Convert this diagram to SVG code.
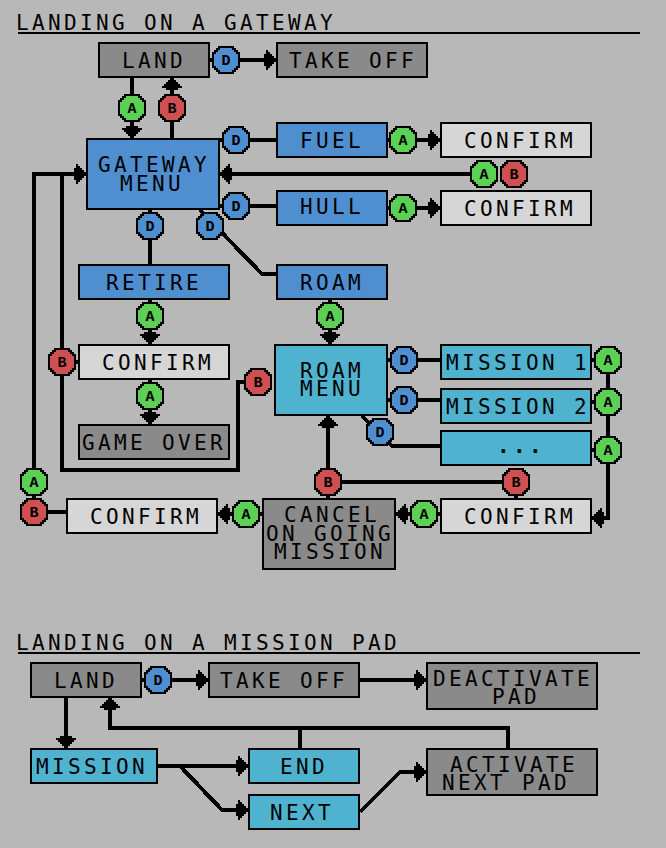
<svg xmlns="http://www.w3.org/2000/svg" width="666" height="848" viewBox="0 0 666 848">
<style>
text{font-family:"DejaVu Sans Mono","Liberation Mono",monospace;font-size:21px;letter-spacing:3.36px;fill:#000}
.box{stroke:#000;stroke-width:2;shape-rendering:crispEdges}
.blue{fill:#4f8fd0}.cyan{fill:#4fb3cf}.dark{fill:#8a8a8a}.light{fill:#d6d6d6}
.green{fill:#5ccf55}.red{fill:#cf5050}
.bd{stroke:#000;stroke-width:2;shape-rendering:crispEdges}
.bt{font-family:"Liberation Mono","DejaVu Sans Mono",monospace;font-size:15px;font-weight:bold;letter-spacing:0;text-anchor:middle}
.dots{font-weight:bold}
.c{fill:none;stroke:#000;stroke-width:4;shape-rendering:crispEdges}
.a{marker-end:url(#head)}
.rule{stroke:#000;stroke-width:2;shape-rendering:crispEdges}
</style>
<defs>
<marker id="head" markerUnits="userSpaceOnUse" viewBox="-13 -11 14 22" refX="0" refY="0" markerWidth="14" markerHeight="22" orient="auto">
<polygon shape-rendering="crispEdges" points="0,-2 -2,-2 -2,-4 -4,-4 -4,-6 -6,-6 -6,-8 -8,-8 -8,-10 -10,-10 -10,-6 -12,-6 -12,-2 -12,2 -12,6 -10,6 -10,10 -8,10 -8,8 -6,8 -6,6 -4,6 -4,4 -2,4 -2,2 0,2"/>
</marker>
<polygon id="oct" points="-7,-13 7,-13 7,-11 9,-11 9,-9 11,-9 11,-7 13,-7 13,7 11,7 11,9 9,9 9,11 7,11 7,13 -7,13 -7,11 -9,11 -9,9 -11,9 -11,7 -13,7 -13,-7 -11,-7 -11,-9 -9,-9 -9,-11 -7,-11"/>
</defs>
<rect width="666" height="848" fill="#b8b8b8"/>

<g id="heading-gateway"><text x="16" y="30">LANDING ON A GATEWAY</text><line class="rule" x1="18" y1="33" x2="640" y2="33"/></g>
<g id="heading-pad"><text x="16" y="650">LANDING ON A MISSION PAD</text><line class="rule" x1="18" y1="653" x2="640" y2="653"/></g>

<g id="connectors">
<path class="c" d="M210 60H212"/>
<path class="c a" d="M240 60H276"/>
<path class="c a" d="M132 78V138"/>
<path class="c a" d="M172 138V78"/>
<path class="c" d="M220 140H276"/>
<path class="c a" d="M388 140H440"/>
<path class="c a" d="M484 174H220"/>
<path class="c" d="M220 206H276"/>
<path class="c a" d="M388 208H440"/>
<path class="c" d="M150 210V264"/>
<path class="c" d="M200 210L262 274H276"/>
<path class="c a" d="M150 300V344"/>
<path class="c a" d="M330 300V344"/>
<path class="c a" d="M150 380V424"/>
<path class="c" d="M78 362H62"/>
<path class="c" d="M62 174V470H238V382H258"/>
<path class="c a" d="M34 512V174H86"/>
<path class="c" d="M34 512H66"/>
<path class="c" d="M388 360H440"/>
<path class="c" d="M388 400H440"/>
<path class="c" d="M362 416L392 446H440"/>
<path class="c" d="M592 360H608"/>
<path class="c" d="M592 402H608"/>
<path class="c" d="M592 450H608"/>
<path class="c a" d="M608 360V518H592"/>
<path class="c a" d="M440 514H396"/>
<path class="c a" d="M262 514H218"/>
<path class="c" d="M516 498V482H328"/>
<path class="c a" d="M328 498V416"/>
<path class="c a" d="M142 680H208"/>
<path class="c a" d="M360 680H426"/>
<path class="c a" d="M66 698V748"/>
<path class="c a" d="M508 748V728H110V698"/>
<path class="c" d="M300 748V728"/>
<path class="c a" d="M158 766H248"/>
<path class="c a" d="M180 766L222 810H248"/>
<path class="c a" d="M360 812L400 772H426"/>
</g>

<g id="land"><rect class="box dark" x="99" y="43" width="110" height="34"/><text x="122" y="68">LAND</text></g>
<g id="take-off"><rect class="box dark" x="277" y="43" width="150" height="34"/><text x="289" y="68">TAKE OFF</text></g>
<g id="gateway-menu"><rect class="box blue" x="87" y="139" width="132" height="70"/><text><tspan x="98" y="172">GATEWAY</tspan><tspan x="120" y="191">MENU</tspan></text></g>
<g id="fuel"><rect class="box blue" x="277" y="123" width="110" height="34"/><text x="300" y="148">FUEL</text></g>
<g id="fuel-confirm"><rect class="box light" x="441" y="123" width="150" height="34"/><text x="464" y="148">CONFIRM</text></g>
<g id="hull"><rect class="box blue" x="277" y="191" width="110" height="34"/><text x="300" y="214">HULL</text></g>
<g id="hull-confirm"><rect class="box light" x="441" y="191" width="150" height="34"/><text x="464" y="216">CONFIRM</text></g>
<g id="retire"><rect class="box blue" x="79" y="265" width="150" height="34"/><text x="106" y="290">RETIRE</text></g>
<g id="roam"><rect class="box blue" x="277" y="265" width="110" height="34"/><text x="300" y="290">ROAM</text></g>
<g id="retire-confirm"><rect class="box light" x="79" y="345" width="150" height="34"/><text x="102" y="370">CONFIRM</text></g>
<g id="game-over"><rect class="box dark" x="79" y="425" width="150" height="34"/><text x="82" y="450">GAME OVER</text></g>
<g id="roam-menu"><rect class="box cyan" x="275" y="345" width="112" height="70"/><text><tspan x="300" y="378">ROAM</tspan><tspan x="300" y="396">MENU</tspan></text></g>
<g id="mission-1"><rect class="box cyan" x="441" y="345" width="150" height="34"/><text x="446" y="370">MISSION 1</text></g>
<g id="mission-2"><rect class="box cyan" x="441" y="389" width="150" height="34"/><text x="446" y="414">MISSION 2</text></g>
<g id="mission-more"><rect class="box cyan" x="441" y="431" width="150" height="34"/><text class="dots" x="497" y="453">...</text></g>
<g id="cancel-confirm"><rect class="box light" x="441" y="499" width="150" height="34"/><text x="464" y="524">CONFIRM</text></g>
<g id="cancel"><rect class="box dark" x="263" y="499" width="132" height="70"/><text><tspan x="284" y="522">CANCEL</tspan><tspan x="266" y="541">ON GOING</tspan><tspan x="274" y="559">MISSION</tspan></text></g>
<g id="abort-confirm"><rect class="box light" x="67" y="499" width="150" height="34"/><text x="90" y="524">CONFIRM</text></g>

<g id="pad-land"><rect class="box dark" x="31" y="663" width="110" height="34"/><text x="54" y="688">LAND</text></g>
<g id="pad-take-off"><rect class="box dark" x="209" y="663" width="150" height="34"/><text x="220" y="688">TAKE OFF</text></g>
<g id="deactivate-pad"><rect class="box dark" x="427" y="663" width="170" height="46"/><text><tspan x="433" y="686">DEACTIVATE</tspan><tspan x="492" y="704">PAD</tspan></text></g>
<g id="pad-mission"><rect class="box cyan" x="31" y="749" width="126" height="34"/><text x="36" y="774">MISSION</text></g>
<g id="end"><rect class="box cyan" x="249" y="749" width="110" height="34"/><text x="280" y="774">END</text></g>
<g id="next"><rect class="box cyan" x="249" y="795" width="110" height="34"/><text x="270" y="820">NEXT</text></g>
<g id="activate-next-pad"><rect class="box dark" x="427" y="749" width="170" height="46"/><text><tspan x="450" y="772">ACTIVATE</tspan><tspan x="442" y="790">NEXT PAD</tspan></text></g>

<g id="btn-land-d" transform="translate(226 60)"><use href="#oct" class="bd blue"/><text class="bt" y="5">D</text></g>
<g id="btn-land-a" transform="translate(132 108)"><use href="#oct" class="bd green"/><text class="bt" y="5">A</text></g>
<g id="btn-land-b" transform="translate(172 108)"><use href="#oct" class="bd red"/><text class="bt" y="5">B</text></g>
<g id="btn-fuel-d" transform="translate(236 140)"><use href="#oct" class="bd blue"/><text class="bt" y="5">D</text></g>
<g id="btn-hull-d" transform="translate(236 206)"><use href="#oct" class="bd blue"/><text class="bt" y="5">D</text></g>
<g id="btn-retire-d" transform="translate(150 226)"><use href="#oct" class="bd blue"/><text class="bt" y="5">D</text></g>
<g id="btn-roam-d" transform="translate(210 226)"><use href="#oct" class="bd blue"/><text class="bt" y="5">D</text></g>
<g id="btn-fuel-a" transform="translate(403 140)"><use href="#oct" class="bd green"/><text class="bt" y="5">A</text></g>
<g id="btn-hull-a" transform="translate(403 208)"><use href="#oct" class="bd green"/><text class="bt" y="5">A</text></g>
<g id="btn-back-a" transform="translate(484 174)"><use href="#oct" class="bd green"/><text class="bt" y="5">A</text></g>
<g id="btn-back-b" transform="translate(514 174)"><use href="#oct" class="bd red"/><text class="bt" y="5">B</text></g>
<g id="btn-retire-a" transform="translate(150 316)"><use href="#oct" class="bd green"/><text class="bt" y="5">A</text></g>
<g id="btn-roam-a" transform="translate(330 316)"><use href="#oct" class="bd green"/><text class="bt" y="5">A</text></g>
<g id="btn-retire-b" transform="translate(62 362)"><use href="#oct" class="bd red"/><text class="bt" y="5">B</text></g>
<g id="btn-over-a" transform="translate(150 396)"><use href="#oct" class="bd green"/><text class="bt" y="5">A</text></g>
<g id="btn-roam-b" transform="translate(258 382)"><use href="#oct" class="bd red"/><text class="bt" y="5">B</text></g>
<g id="btn-m1-d" transform="translate(404 360)"><use href="#oct" class="bd blue"/><text class="bt" y="5">D</text></g>
<g id="btn-m2-d" transform="translate(404 400)"><use href="#oct" class="bd blue"/><text class="bt" y="5">D</text></g>
<g id="btn-more-d" transform="translate(380 432)"><use href="#oct" class="bd blue"/><text class="bt" y="5">D</text></g>
<g id="btn-m1-a" transform="translate(608 360)"><use href="#oct" class="bd green"/><text class="bt" y="5">A</text></g>
<g id="btn-m2-a" transform="translate(608 402)"><use href="#oct" class="bd green"/><text class="bt" y="5">A</text></g>
<g id="btn-more-a" transform="translate(608 450)"><use href="#oct" class="bd green"/><text class="bt" y="5">A</text></g>
<g id="btn-confirm-b" transform="translate(516 482)"><use href="#oct" class="bd red"/><text class="bt" y="5">B</text></g>
<g id="btn-cancel-b" transform="translate(328 482)"><use href="#oct" class="bd red"/><text class="bt" y="5">B</text></g>
<g id="btn-abort-a" transform="translate(34 482)"><use href="#oct" class="bd green"/><text class="bt" y="5">A</text></g>
<g id="btn-abort-b" transform="translate(34 512)"><use href="#oct" class="bd red"/><text class="bt" y="5">B</text></g>
<g id="btn-cancel-a" transform="translate(246 514)"><use href="#oct" class="bd green"/><text class="bt" y="5">A</text></g>
<g id="btn-confirm-a" transform="translate(424 514)"><use href="#oct" class="bd green"/><text class="bt" y="5">A</text></g>
<g id="btn-pad-d" transform="translate(158 680)"><use href="#oct" class="bd blue"/><text class="bt" y="5">D</text></g>
</svg>
